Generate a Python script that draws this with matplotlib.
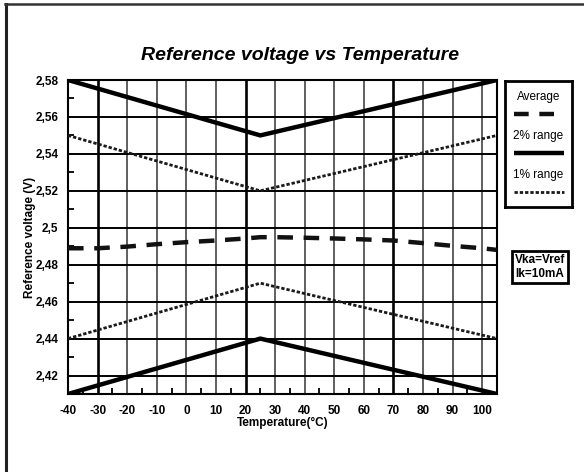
import matplotlib
matplotlib.use("Agg")
import matplotlib.pyplot as plt
from matplotlib.ticker import MultipleLocator, FixedLocator
from matplotlib.lines import Line2D

plt.rcParams['font.family'] = ['Liberation Sans', 'DejaVu Sans']
plt.rcParams['axes.unicode_minus'] = False

# ---- data ----
temps_range = [-40, 25, 105]
upper_2pct = [2.58, 2.55, 2.58]
lower_2pct = [2.41, 2.44, 2.41]
upper_1pct = [2.55, 2.52, 2.55]
lower_1pct = [2.44, 2.47, 2.44]

temps_avg = [-40, -30, -20, -10, 0, 10, 20, 25, 30, 40, 50, 60, 70, 80, 90, 100, 105]
avg_v = [2.4889, 2.4889, 2.4898, 2.4911, 2.4922, 2.4931, 2.4942, 2.4949, 2.4949,
         2.4946, 2.4942, 2.4937, 2.4931, 2.4917, 2.4902, 2.4889, 2.4880]

x_ticks = [-40, -30, -20, -10, 0, 10, 20, 30, 40, 50, 60, 70, 80, 90, 100]
y_ticks = [2.42, 2.44, 2.46, 2.48, 2.50, 2.52, 2.54, 2.56, 2.58]
y_labels = ['2,42', '2,44', '2,46', '2,48', '2,5', '2,52', '2,54', '2,56', '2,58']
thick_x = [-30, 20, 70]

title = 'Reference voltage vs Temperature'
legend_labels = ['Average', '2% range', '1% range']
cond_text = 'Vka=Vref\nIk=10mA'

W, H = 584, 472
fig = plt.figure(figsize=(W / 100, H / 100), dpi=100)

L, R, T, B = 68, 497, 80, 394
ax = fig.add_axes([L / W, 1 - B / H, (R - L) / W, (B - T) / H])
ax.set_xlim(-40, 105)
ax.set_ylim(2.41, 2.58)

# grid
for x in x_ticks[1:] + [105]:
    if x in thick_x:
        ax.axvline(x, color='black', lw=1.9, zorder=1)
    else:
        ax.axvline(x, color='#444444', lw=1.2, zorder=1)
for y in y_ticks:
    ax.axhline(y, color='black', lw=1.4, zorder=1)

# curves
ax.plot(temps_range, upper_2pct, color='black', lw=3.2, solid_capstyle='butt', zorder=3)
ax.plot(temps_range, lower_2pct, color='black', lw=3.2, solid_capstyle='butt', zorder=3)
ax.plot(temps_range, upper_1pct, color='#1a1a1a', lw=2.0, dashes=(1.2, 0.7), zorder=3)
ax.plot(temps_range, lower_1pct, color='#1a1a1a', lw=2.0, dashes=(1.2, 0.7), zorder=3)
ax.plot(temps_avg, avg_v, color='#111111', lw=3.2, dashes=(3.5, 2.4), zorder=3)

# ticks
ax.xaxis.set_major_locator(FixedLocator(x_ticks))
ax.xaxis.set_minor_locator(MultipleLocator(5))
ax.yaxis.set_major_locator(FixedLocator(y_ticks))
ax.set_yticklabels(y_labels)
ax.yaxis.set_minor_locator(MultipleLocator(0.01))
ax.tick_params(axis='both', which='major', length=0, labelsize=8.5, pad=7)
ax.tick_params(axis='x', which='major', pad=8)
ax.tick_params(axis='both', which='minor', direction='in', length=4, width=1.3, color='black')
for lab in ax.get_xticklabels() + ax.get_yticklabels():
    lab.set_fontweight('bold')
for s in ax.spines.values():
    s.set_linewidth(1.5)

# texts
fig.text(300 / W, 1 - 55 / H, title, ha='center', va='center', fontsize=14,
         fontweight='bold', fontstyle='italic')
fig.text(283 / W, 1 - 423 / H, 'Temperature(°C)', ha='center', va='center',
         fontsize=8.5, fontweight='bold')
fig.text(30 / W, 1 - 237 / H, 'Reference voltage (V)', ha='center', va='center',
         fontsize=8.5, fontweight='bold', rotation=90)

# legend box
lx0, lx1, ly0, ly1 = 505, 572, 81, 207
lax = fig.add_axes([lx0 / W, 1 - ly1 / H, (lx1 - lx0) / W, (ly1 - ly0) / H])
lax.set_xlim(0, 1)
lax.set_ylim(0, 1)
lax.set_xticks([])
lax.set_yticks([])
for s in lax.spines.values():
    s.set_linewidth(2.0)
styles = [dict(color='#111111', lw=3.2, dashes=(3.3, 2.4)),
          dict(color='black', lw=3.2, solid_capstyle='butt'),
          dict(color='#1a1a1a', lw=2.0, dashes=(1.2, 0.7))]
text_y = [97, 136, 175]
line_y = [114, 153, 192]
for lbl, st, ty, ly in zip(legend_labels, styles, text_y, line_y):
    fy_t = (ly1 - ty) / (ly1 - ly0)
    fy_l = (ly1 - ly) / (ly1 - ly0)
    lax.text(0.5, fy_t, lbl, ha='center', va='center', fontsize=8.5)
    lax.add_line(Line2D([0.14, 0.88], [fy_l, fy_l], **st))

# condition box
fig.text(540 / W, 1 - 267 / H, cond_text, ha='center', va='center', fontsize=8.5,
         fontweight='bold', linespacing=1.3,
         bbox=dict(boxstyle='square,pad=0.25', facecolor='white', edgecolor='black', lw=2.0))

# outer frame (left and top only)
fig.add_artist(Line2D([6 / W, 6 / W], [0, 1 - 3.5 / H], transform=fig.transFigure,
                      color='#222222', lw=2.2))
fig.add_artist(Line2D([5 / W, 1], [1 - 3.5 / H, 1 - 3.5 / H], transform=fig.transFigure,
                      color='#333333', lw=1.8))

fig.savefig('out.png', dpi=100)
